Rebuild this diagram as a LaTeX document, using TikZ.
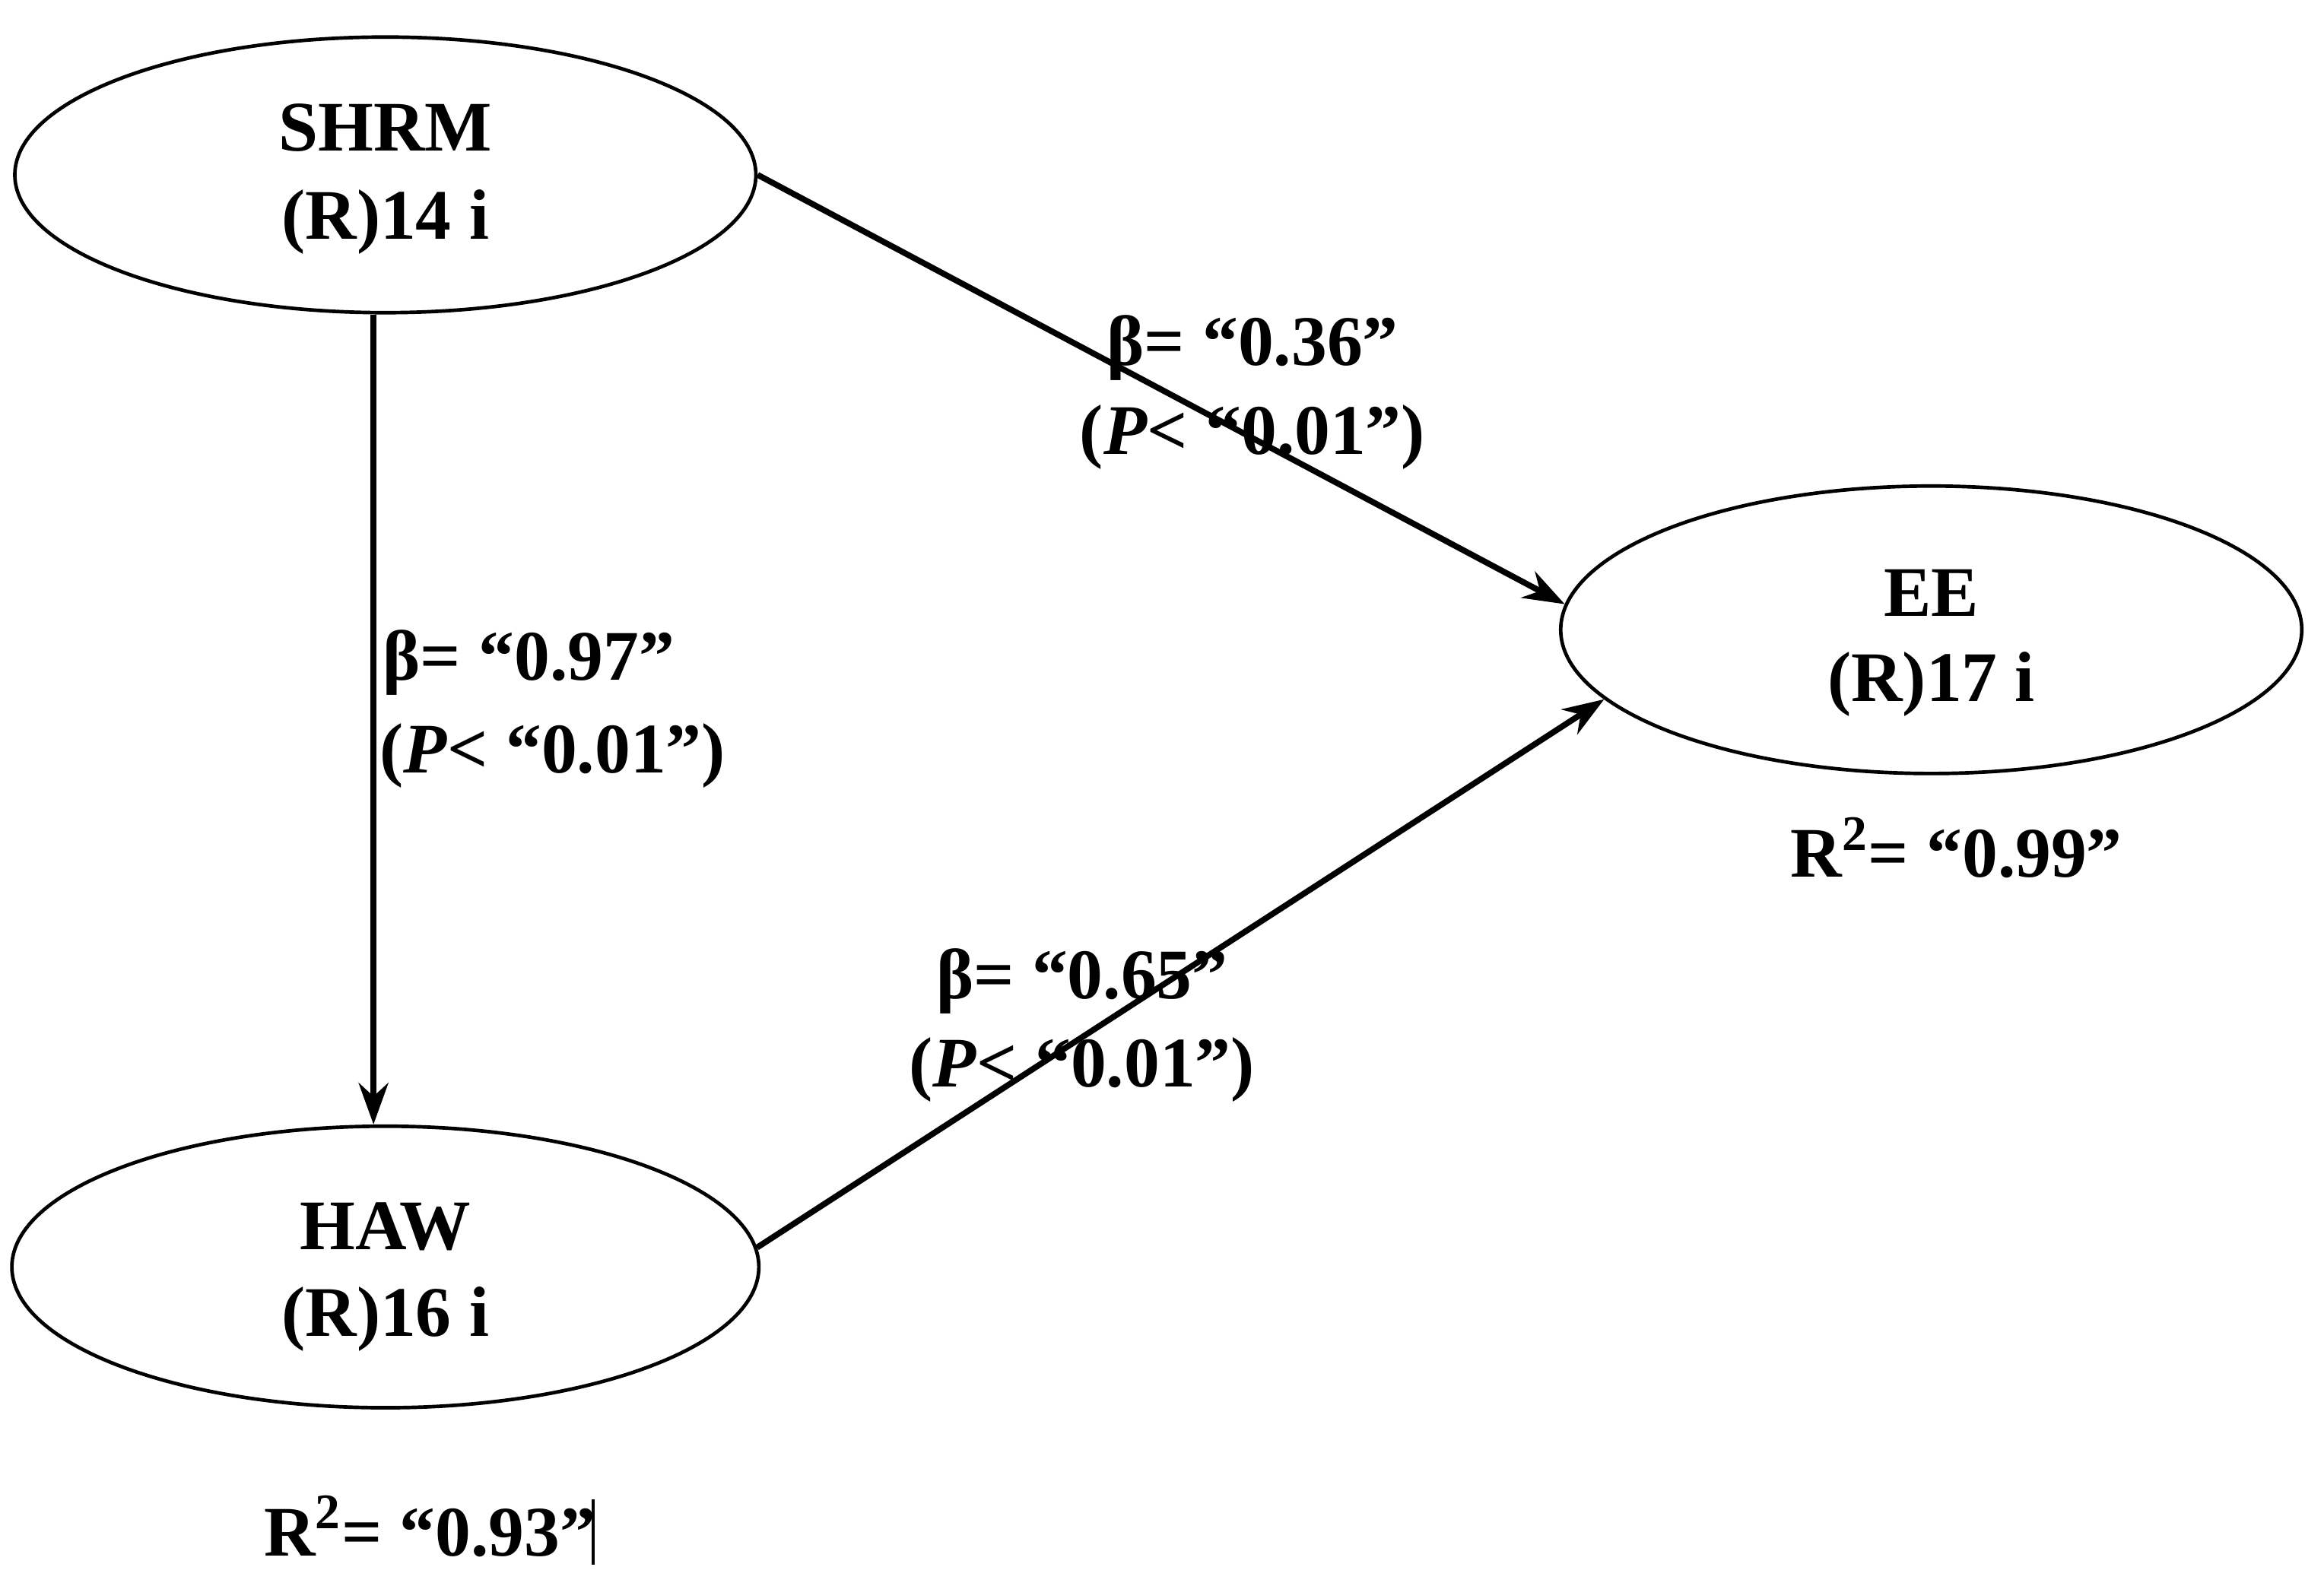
\documentclass[tikz,border=0pt]{standalone}
\usepackage{fontspec}
\setmainfont{Liberation Serif}
\usetikzlibrary{shapes.geometric,arrows.meta}
\begin{document}
\begin{tikzpicture}[x=0.5pt,y=-0.5pt,
  lat/.style={draw,ellipse,line width=1.2pt,minimum width=250pt,minimum height=93pt,inner sep=0pt},
  txt/.style={font=\fontsize{24}{28}\selectfont\bfseries,inner sep=0pt},
  arr/.style={line width=2pt,-{Stealth[length=14pt,width=10pt]}}]
\useasboundingbox (0,0) rectangle (1568,1070);
\node[lat] (shrm) at (260,118) {};
\node[lat,minimum height=97pt] (ee) at (1303,425) {};
\node[lat,minimum width=252pt,minimum height=95pt] (haw) at (260,855) {};
\node[txt] (t1) at (260,86) {SHRM};
\node[txt] (t2) at (260,150) {(R)14 i};
\node[txt] (t3) at (1303,400) {EE};
\node[txt] (t4) at (1303,462) {(R)17 i};
\node[txt] (t5) at (260,828) {HAW};
\node[txt] (t6) at (260,890) {(R)16 i};
\draw[arr] ([xshift=-4pt]shrm.south) -- ([xshift=-4pt]haw.north);
\draw[arr] (shrm.east) -- (ee.176);
\draw[arr] (haw.3) -- (ee.192);
\node[txt] (l1) at (845,235) {β= “0.36”};
\node[txt] (l2) at (845,295) {(\textit{P}< “0.01”)};
\node[txt,anchor=west] (l3) at (258,447) {β= “0.97”};
\node[txt,anchor=west] (l4) at (256,510) {(\textit{P}< “0.01”)};
\node[txt] (l5) at (730,662) {β= “0.65”};
\node[txt] (l6) at (730,722) {(\textit{P}< “0.01”)};
\node[txt] (r1) at (1320,572) {R\textsuperscript{2}= “0.99”};
\node[txt] (r2) at (290,1030) {R\textsuperscript{2}= “0.93”};
\coordinate (c1) at (400,1012);
\coordinate (c2) at (400,1056);
\draw[line width=1pt] (c1) -- (c2);
\end{tikzpicture}
\end{document}
